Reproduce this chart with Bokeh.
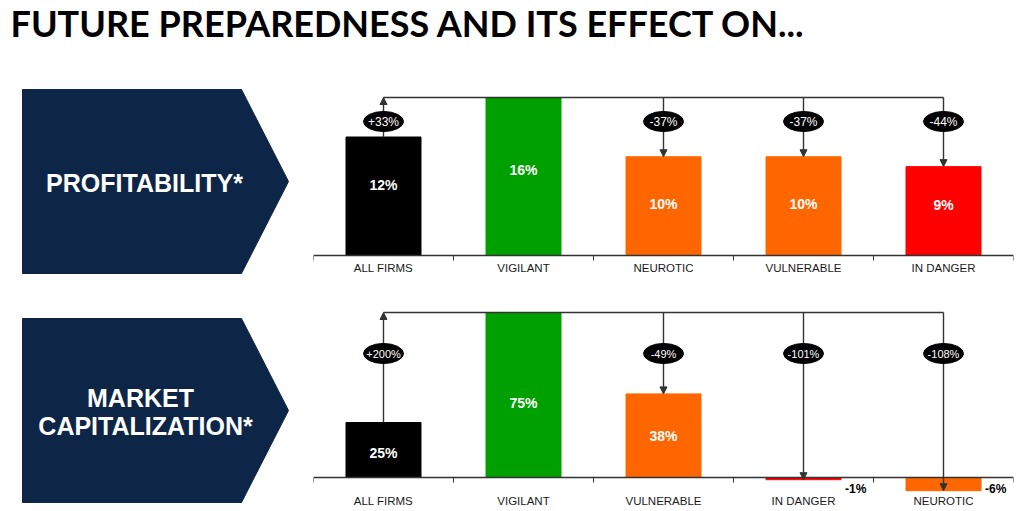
from bokeh.plotting import figure
from bokeh.models import (Range1d, FixedTicker, Arrow, NormalHead, ColumnDataSource,
                          LinearAxis)
from bokeh.layouts import column, row
from bokeh.core.properties import value
from bokeh.embed import file_html
from bokeh.resources import INLINE

# ---------------- data ----------------
title_text = ["FUTURE PREPAREDNESS AND ITS EFFECT ON..."]

profit_cats = ["ALL FIRMS", "VIGILANT", "NEUROTIC", "VULNERABLE", "IN DANGER"]
profit_vals = [12, 16, 10, 10, 9]
profit_changes = ["+33%", None, "-37%", "-37%", "-44%"]

mcap_cats = ["ALL FIRMS", "VIGILANT", "VULNERABLE", "IN DANGER", "NEUROTIC"]
mcap_vals = [25, 75, 38, -1, -6]
mcap_changes = ["+200%", None, "-49%", "-101%", "-108%"]

banner_1 = ["PROFITABILITY*"]
banner_2 = ["MARKET", "CAPITALIZATION*"]

# ---------------- style ----------------
COLORS = {"ALL FIRMS": "#000000", "VIGILANT": "#00A000", "NEUROTIC": "#FF6600",
          "VULNERABLE": "#FF6600", "IN DANGER": "#FF0000"}
NAVY = "#0D2546"
LINE = "#333333"
FONT = value("Liberation Sans")
# small per-bar vertical nudges (pixels, positive = up) of the in-bar value labels
LABEL_NUDGE_1 = [11, 7, 2, 2, 6]
LABEL_NUDGE_2 = [-3, -8, 0, 0, 0]


def base_fig(w, h, xr, yr, **kw):
    p = figure(width=w, height=h, x_range=xr, y_range=yr, toolbar_location=None,
               output_backend="svg", x_axis_location=None, y_axis_location=None,
               min_border=0, outline_line_color=None, **kw)
    p.grid.visible = False
    return p


# ---------------- title ----------------
tp = base_fig(1023, 80, Range1d(0, 1023), Range1d(80, 0))
tp.text(x=[10], y=[22], text=title_text, text_font=value("Lato"),
        text_font_style="bold", text_font_size="36px", text_color="#000000",
        text_baseline="middle", text_align="left")

# ---------------- chevrons ----------------
cp = base_fig(305, 431, Range1d(0, 305), Range1d(511, 80))
for top, bot in [(89, 273), (318, 502)]:
    mid = (top + bot) / 2
    cp.patch([22, 241, 288, 241, 22], [top, top, mid, bot, bot],
             fill_color=NAVY, line_color=NAVY)
cp.text(x=[144], y=[182], text=banner_1, text_font=FONT, text_font_style="bold",
        text_font_size="25px", text_color="white", text_align="center",
        text_baseline="middle")
cp.text(x=[140, 145], y=[397, 425], text=banner_2, text_font=FONT,
        text_font_style="bold", text_font_size="25px", text_color="white",
        text_align="center", text_baseline="middle")


# ---------------- bar charts ----------------
def bar_chart(cats, vals, changes, h, zero_px, max_px, ell_px, std, ell_font, nudge):
    n = len(cats)
    vmax = max(vals)
    ppu = (zero_px - max_px) / vmax
    yr = Range1d(-(h - zero_px) / ppu, zero_px / ppu)
    p = base_fig(718, h, Range1d(0, n), yr, min_border_left=8, min_border_right=10)
    p.min_border_top = 0
    p.min_border_bottom = 0

    xs = [i + 0.5 for i in range(n)]
    bw = 75 / 140
    src = ColumnDataSource(dict(x=xs, top=vals, color=[COLORS[c] for c in cats]))
    p.vbar(x="x", top="top", bottom=0, width=bw, color="color", source=src)

    # x axis at zero
    ax = LinearAxis(fixed_location=0)
    ax.ticker = FixedTicker(ticks=xs, minor_ticks=list(range(n + 1)))
    ax.major_label_overrides = {x: c for x, c in zip(xs, cats)}
    ax.major_tick_in = 0
    ax.major_tick_out = 0
    ax.minor_tick_in = 0
    ax.minor_tick_out = 5
    ax.minor_tick_line_color = LINE
    ax.axis_line_color = LINE
    ax.axis_line_width = 1.4
    ax.major_label_standoff = std
    ax.major_label_text_font = "Liberation Sans"
    ax.major_label_text_font_size = "11.5px"
    ax.major_label_text_color = "#1a1a1a"
    p.add_layout(ax, "below")

    # value labels
    pos = [(x, v, d) for x, v, d in zip(xs, vals, nudge) if v > 0]
    p.text(x=[a for a, _, _ in pos], y=[v / 2 + d / ppu for _, v, d in pos],
           text=[f"{v}%" for _, v, _ in pos], text_font=FONT, text_font_style="bold",
           text_font_size="14px", text_color="white", text_align="center",
           text_baseline="middle")
    neg = [(x, v) for x, v in zip(xs, vals) if v < 0]
    if neg:
        p.text(x=[a + bw / 2 for a, _ in neg], y=[0] * len(neg),
               text=[f"{v}%" for _, v in neg], text_font=FONT, text_font_style="bold",
               text_font_size="12px", text_color="#000000", text_align="left",
               text_baseline="middle", x_offset=4, y_offset=11)

    # connector
    ref = vals[1]
    p.segment(x0=[xs[0]], x1=[xs[-1]], y0=[ref], y1=[ref], line_color=LINE,
              line_width=1.4)
    ax_src = ColumnDataSource(dict(
        x=[xs[i] for i in range(n) if changes[i]],
        y0=[(vals[i] if i == 0 else ref) for i in range(n) if changes[i]],
        y1=[(ref if i == 0 else vals[i]) for i in range(n) if changes[i]],
    ))
    p.add_layout(Arrow(end=NormalHead(size=7, fill_color=LINE, line_color=LINE),
                       x_start="x", y_start="y0", x_end="x", y_end="y1",
                       source=ax_src, line_color=LINE, line_width=1.4))
    ey = (zero_px - ell_px) / ppu
    cx = [xs[i] for i in range(n) if changes[i]]
    ct = [changes[i] for i in range(n) if changes[i]]
    e = p.ellipse(x=cx, y=[ey] * len(cx), width=40, height=20,
                  width_units="screen", height_units="screen",
                  fill_color="#000000", line_color="#000000")
    e.level = "overlay"
    t = p.text(x=cx, y=[ey] * len(cx), text=ct, text_font=FONT,
               text_font_size=ell_font, text_color="white", text_align="center",
               text_baseline="middle")
    t.level = "overlay"
    return p


b1 = bar_chart(profit_cats, profit_vals, profit_changes, 210, 175, 17, 41, 1, "12px",
               LABEL_NUDGE_1)
b2 = bar_chart(mcap_cats, mcap_vals, mcap_changes, 221, 187, 22, 63, 12, "11px",
               LABEL_NUDGE_2)

layout = column(tp, row(cp, column(b1, b2)))

open("out.html", "w").write(file_html(layout, INLINE))
